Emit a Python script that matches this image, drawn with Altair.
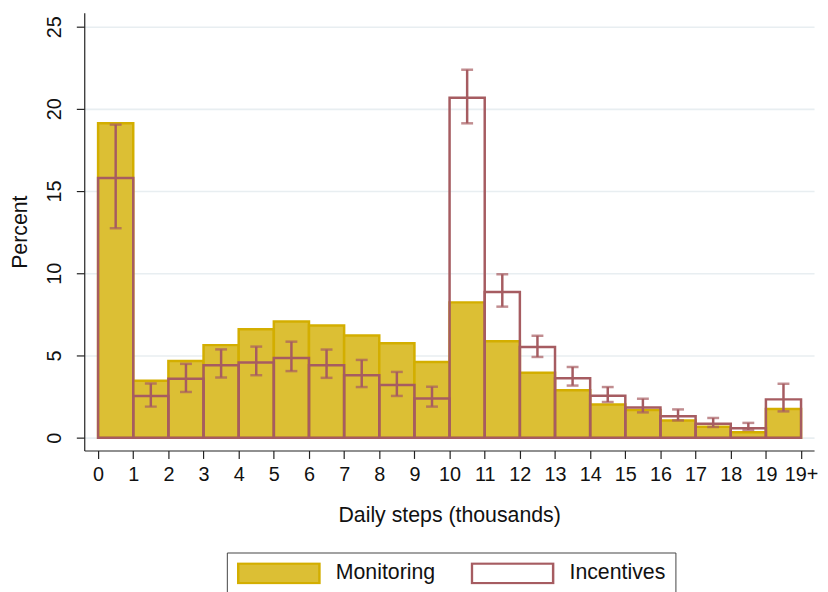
import altair as alt
import pandas as pd

# ---- data ----
bin_start = list(range(20))
tick_labels = [str(i) for i in range(20)] + ["19+"]
groups = ["Monitoring", "Incentives"]
monitoring = [19.12, 3.46, 4.67, 5.63, 6.60, 7.06, 6.82, 6.22, 5.74, 4.60,
              8.23, 5.86, 3.95, 2.88, 2.02, 1.68, 1.05, 0.66, 0.33, 1.75]
incentives = [15.80, 2.54, 3.58, 4.41, 4.58, 4.85, 4.41, 3.80, 3.20, 2.38,
              20.67, 8.86, 5.52, 3.62, 2.55, 1.83, 1.30, 0.85, 0.57, 2.33]
inc_upper = [19.04, 3.30, 4.49, 5.37, 5.54, 5.84, 5.36, 4.73, 4.00, 3.10,
             22.38, 9.94, 6.20, 4.30, 3.08, 2.37, 1.72, 1.20, 0.90, 3.28]
inc_lower = [12.74, 1.89, 2.78, 3.66, 3.80, 4.05, 3.64, 3.08, 2.54, 1.89,
             19.12, 7.97, 4.91, 3.17, 2.17, 1.54, 1.05, 0.65, 0.47, 1.60]

GOLD_FILL = "#DCBF34"
GOLD_LINE = "#D3AE00"
MAROON = "#A65C61"
FONT = "Liberation Sans"

bars = pd.DataFrame(
    [{"x0": b, "x1": b + 1, "val": v, "group": groups[0]} for b, v in zip(bin_start, monitoring)]
    + [{"x0": b, "x1": b + 1, "val": v, "group": groups[1]} for b, v in zip(bin_start, incentives)]
)
errs = pd.DataFrame({"xm": [b + 0.5 for b in bin_start], "lo": inc_lower, "hi": inc_upper})

label_array = "[" + ",".join("'" + t + "'" for t in tick_labels) + "]"

xscale = alt.Scale(domain=[-0.394, 20.37], nice=False, zero=False)
yscale = alt.Scale(domain=[-0.78, 25.84], nice=False, zero=False)

fill_scale = alt.Scale(domain=groups, range=[GOLD_FILL, "rgba(255,255,255,0)"])
stroke_scale = alt.Scale(domain=groups, range=[GOLD_LINE, MAROON])

x_axis = alt.Axis(
    values=list(range(21)), labelExpr=label_array + "[datum.value]",
    title="Daily steps (thousands)", grid=False, tickSize=8, labelPadding=6,
    labelFontSize=20, titleFontSize=21.5, titlePadding=21,
    labelFont=FONT, titleFont=FONT, labelColor="#111", titleColor="#111",
    domainColor="#222", tickColor="#222", domainWidth=1.2, tickWidth=1.2,
    labelOverlap=False, labelFlush=False, titleFontWeight="normal",
)
y_axis = alt.Axis(
    values=[0, 5, 10, 15, 20, 25], title="Percent", grid=True,
    gridColor="#E8EEF1", gridWidth=1.6, tickSize=8, labelPadding=12,
    labelAngle=270, labelAlign="center", labelBaseline="bottom",
    labelFontSize=20, titleFontSize=21.5, titlePadding=13,
    labelFont=FONT, titleFont=FONT, labelColor="#111", titleColor="#111",
    domainColor="#222", tickColor="#222", domainWidth=1.2, tickWidth=1.2,
    labelOverlap=False, labelFlush=False, titleFontWeight="normal",
)

legend = alt.Legend(
    title=None, orient="none", legendX=144, legendY=545, direction="horizontal",
    symbolType="M-1,-0.244H1V0.244H-1Z", symbolSize=6724, symbolStrokeWidth=2.5,
    clipHeight=22,
    labelFontSize=21.5, labelFont=FONT, labelColor="#111", labelOffset=15,
    columnPadding=35, padding=10, strokeColor="#444", fillColor="white",
)

X = alt.X("x0:Q", scale=xscale, axis=x_axis)
Y = alt.Y("val:Q", scale=yscale, axis=y_axis, stack=None)

base = alt.Chart(bars)

mon_bars = base.transform_filter(alt.datum.group == groups[0]).mark_bar(strokeWidth=2.5).encode(
    x=X, x2="x1:Q", y=Y, y2=alt.datum(0),
    fill=alt.Fill("group:N", scale=fill_scale, legend=legend),
    stroke=alt.Stroke("group:N", scale=stroke_scale, legend=legend),
)
inc_bars = base.transform_filter(alt.datum.group == groups[1]).mark_bar(strokeWidth=2.5).encode(
    x=X, x2="x1:Q", y=Y, y2=alt.datum(0),
    fill=alt.Fill("group:N", scale=fill_scale, legend=legend),
    stroke=alt.Stroke("group:N", scale=stroke_scale, legend=legend),
)

ebase = alt.Chart(errs)
EX = alt.X("xm:Q", scale=xscale, axis=x_axis)
err_rule = ebase.mark_rule(color=MAROON, strokeWidth=2.5).encode(
    x=EX, y=alt.Y("lo:Q", scale=yscale, axis=y_axis), y2="hi:Q"
)
cap_hi = ebase.mark_tick(color=MAROON, orient="horizontal", size=12, thickness=2.5).encode(
    x=EX, y=alt.Y("hi:Q", scale=yscale, axis=y_axis)
)
cap_lo = ebase.mark_tick(color=MAROON, orient="horizontal", size=12, thickness=2.5).encode(
    x=EX, y=alt.Y("lo:Q", scale=yscale, axis=y_axis)
)

chart = alt.layer(mon_bars, inc_bars, err_rule, cap_hi, cap_lo).properties(
    width=737, height=442,
    autosize=alt.AutoSizeParams(type="none"),
    padding={"left": 77, "top": 2, "right": 6, "bottom": 140},
    background="white",
).configure_view(stroke=None)

chart.save("out.html", embed_options={"renderer": "svg", "actions": False})
